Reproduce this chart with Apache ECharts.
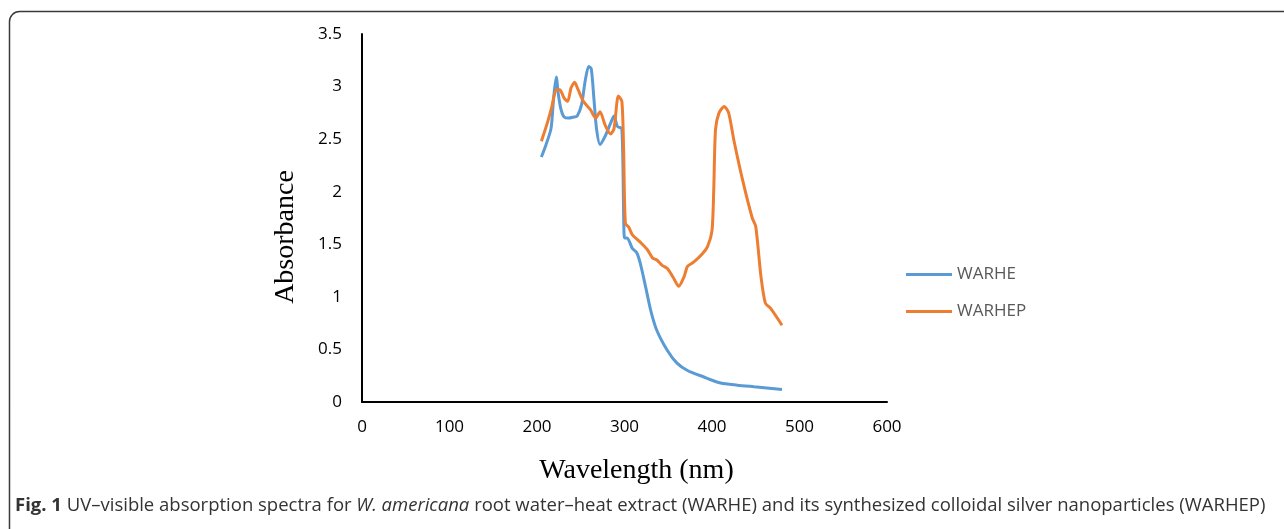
<!DOCTYPE html>
<html>
<head>
<meta charset="utf-8">
<script src="https://cdn.jsdelivr.net/npm/echarts@6/dist/echarts.min.js"></script>
<style>
  html, body { margin: 0; padding: 0; background: #fff; }
  #main { width: 1284px; height: 529px; }
</style>
</head>
<body>
<div id="main"></div>
<script>
// 数据
var warheX = [205, 210, 216, 219, 222, 224.5, 227.5, 231, 236, 242, 246, 251, 255, 259, 262, 265, 268, 272, 278, 284, 288, 292, 297, 300, 303, 309, 314, 318, 324, 330, 337, 349, 360, 372, 390, 410, 429, 448, 480];
var warheY = [2.33, 2.44, 2.60, 2.89, 3.09, 2.92, 2.78, 2.71, 2.70, 2.71, 2.72, 2.83, 3.05, 3.19, 3.17, 2.89, 2.60, 2.45, 2.53, 2.65, 2.72, 2.62, 2.60, 1.56, 1.56, 1.46, 1.42, 1.32, 1.10, 0.87, 0.68, 0.49, 0.37, 0.30, 0.24, 0.18, 0.16, 0.145, 0.12];

var warhepX = [205, 212, 217, 222, 226, 231, 235, 239, 243, 247, 253, 261, 267, 272, 278, 284, 288, 293, 297, 299, 301, 305, 309, 318, 326, 332, 337, 343, 349, 356, 362, 368, 372, 379, 389, 395, 400, 402, 404, 408, 414, 419, 425, 435, 446, 450, 456, 461, 467, 480];
var warhepY = [2.48, 2.66, 2.81, 2.97, 2.97, 2.89, 2.86, 2.99, 3.04, 2.97, 2.86, 2.78, 2.70, 2.76, 2.63, 2.55, 2.60, 2.91, 2.86, 2.40, 1.70, 1.66, 1.59, 1.52, 1.45, 1.37, 1.35, 1.30, 1.27, 1.18, 1.10, 1.19, 1.29, 1.33, 1.41, 1.48, 1.63, 2.02, 2.59, 2.75, 2.81, 2.75, 2.49, 2.11, 1.75, 1.67, 1.19, 0.94, 0.89, 0.73];

var seriesNames = ['WARHE', 'WARHEP'];
var caption = ['Fig. 1', ' UV\u2013visible absorption spectra for ', 'W. americana', ' root water\u2013heat extract (WARHE) and its synthesized colloidal silver nanoparticles (WARHEP)'];

function pairs(xs, ys) {
    return xs.map(function (x, i) { return [x, ys[i]]; });
}

var myChart = echarts.init(document.getElementById('main'));
myChart.setOption({
    animation: false,
    backgroundColor: '#fff',
    grid: {  //表格边距
        left: 362,
        right: 397,
        top: 34,
        bottom: 127
    },
    title: {  // 图注
        text: '{b|' + caption[0] + '}' + caption[1] + '{i|' + caption[2] + '}' + caption[3],
        left: 10,
        top: 491,
        textStyle: {
            fontFamily: 'Open Sans',
            fontSize: 18.5,
            fontWeight: 'normal',
            color: '#333',
            rich: {
                b: { fontFamily: 'Open Sans', fontSize: 18.5, fontWeight: 'bold', color: '#333' },
                i: { fontFamily: 'Open Sans', fontSize: 18.5, fontStyle: 'italic', color: '#333' }
            }
        }
    },
    legend: {
        data: seriesNames,
        orient: 'vertical',
        left: 901,
        top: 261,
        icon: 'rect',
        itemWidth: 46,
        itemHeight: 3,
        itemGap: 20,
        textStyle: {
            fontFamily: 'Open Sans',
            fontSize: 17,
            color: '#595959'
        }
    },
    graphic: [{  // 外框
        type: 'rect',
        shape: { x: 9.5, y: 11.5, width: 1320, height: 600, r: 10 },
        style: { fill: 'none', stroke: '#3a3a3a', lineWidth: 1.5 },
        silent: true
    }],
    xAxis: {
        type: 'value',
        min: 0,
        max: 600,
        interval: 100,
        name: 'Wavelength (nm)',
        nameLocation: 'middle',
        nameGap: 55,
        nameTextStyle: {
            fontFamily: 'Liberation Serif',
            fontSize: 28,
            color: '#000',
            padding: [0, 0, 0, 24]
        },
        axisLine: { lineStyle: { color: '#000', width: 2 } },
        axisTick: { show: false },
        splitLine: { show: false },
        axisLabel: {
            margin: 17,
            fontFamily: 'Open Sans',
            fontSize: 17,
            color: '#000'
        }
    },
    yAxis: {
        type: 'value',
        min: 0,
        max: 3.5,
        interval: 0.5,
        name: 'Absorbance',
        nameLocation: 'middle',
        nameGap: 62,
        nameRotate: 90,
        nameTextStyle: {
            fontFamily: 'Liberation Serif',
            fontSize: 28,
            color: '#000',
            padding: [0, 38, 0, 0]
        },
        axisLine: { show: true, lineStyle: { color: '#000', width: 2 } },
        axisTick: { show: false },
        splitLine: { show: false },
        axisLabel: {
            margin: 20,
            fontFamily: 'Open Sans',
            fontSize: 17,
            color: '#000'
        }
    },
    series: [{
        name: seriesNames[0],
        type: 'line',
        smooth: 0.25,
        symbol: 'none',
        data: pairs(warheX, warheY),
        lineStyle: { color: '#5B9BD5', width: 3 },
        itemStyle: { color: '#5B9BD5' }
    }, {
        name: seriesNames[1],
        type: 'line',
        smooth: 0.25,
        symbol: 'none',
        data: pairs(warhepX, warhepY),
        lineStyle: { color: '#ED7D31', width: 3 },
        itemStyle: { color: '#ED7D31' }
    }]
});
</script>
</body>
</html>
